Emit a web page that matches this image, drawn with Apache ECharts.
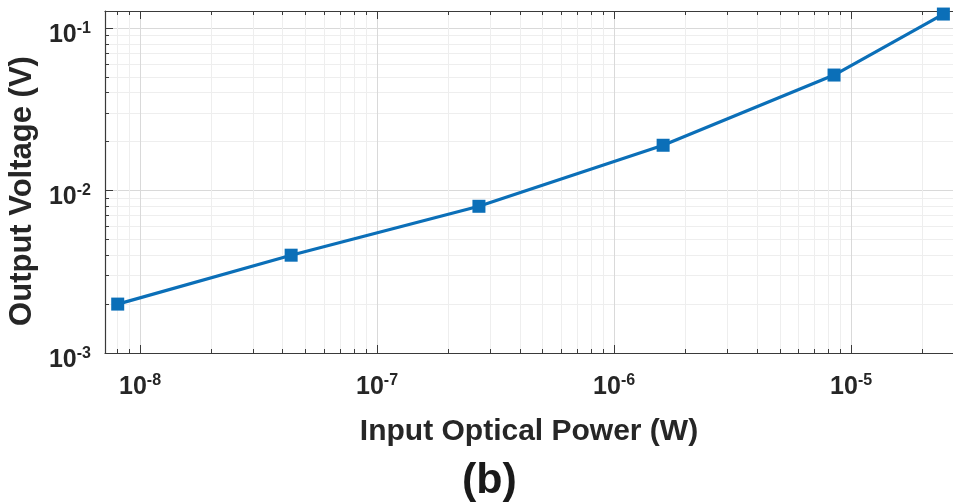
<!DOCTYPE html>
<html>
<head>
<meta charset="utf-8">
<script src="https://cdn.jsdelivr.net/npm/echarts@6/dist/echarts.min.js"></script>
<style>
  html, body { margin: 0; padding: 0; background: #ffffff; }
  #chart { width: 953px; height: 502px; }
</style>
</head>
<body>
<div id="chart"></div>
<script>
// Measured response: input optical power (W) vs output voltage (V)
const inputPower = [8.05e-9, 4.34e-8, 2.69e-7, 1.61e-6, 8.47e-6, 2.45e-5];
const outputVoltage = [0.0020, 0.0040, 0.0080, 0.019, 0.0514, 0.122];

// Axis ranges and decade / sub-decade tick values
const xRange = [7.115e-9, 2.69e-5];
const yRange = [1e-3, 0.1274];
const xMajorTicks = [1e-8, 1e-7, 1e-6, 1e-5];
const xMinorTicks = [8e-9, 9e-9,
  2e-8, 3e-8, 4e-8, 5e-8, 6e-8, 7e-8, 8e-8, 9e-8,
  2e-7, 3e-7, 4e-7, 5e-7, 6e-7, 7e-7, 8e-7, 9e-7,
  2e-6, 3e-6, 4e-6, 5e-6, 6e-6, 7e-6, 8e-6, 9e-6,
  2e-5];
const yMajorTicks = [1e-3, 1e-2, 1e-1];
const yMinorTicks = [2e-3, 3e-3, 4e-3, 5e-3, 6e-3, 7e-3, 8e-3, 9e-3,
  2e-2, 3e-2, 4e-2, 5e-2, 6e-2, 7e-2, 8e-2, 9e-2];

const xTitle = 'Input Optical Power (W)';
const yTitle = 'Output Voltage (V)';
const panelTag = '(b)';

const FONT = '"Liberation Sans", Arial, sans-serif';
const AXIS_COLOR = '#3a3a3a';
const LINE_COLOR = '#0b6fb8';

function powerLabel(v) {
  const e = Math.round(Math.log10(v));
  return '{b|10}{s|' + e + '}';
}
const labelRich = {
  b: { fontFamily: FONT, fontWeight: 'bold', fontSize: 25, color: '#262626', lineHeight: 27, verticalAlign: 'bottom' },
  s: { fontFamily: FONT, fontWeight: 'bold', fontSize: 16, color: '#262626', lineHeight: 27, verticalAlign: 'top' }
};

function logAxis(opts) {
  return Object.assign({
    type: 'log',
    logBase: 10,
    gridIndex: 0,
    axisLine: { show: true, onZero: false, lineStyle: { color: AXIS_COLOR, width: 1.2 } },
    axisTick: { show: true, inside: true, length: 7, lineStyle: { color: AXIS_COLOR, width: 1 } },
    axisLabel: { show: false },
    splitLine: { show: false },
    minorTick: { show: false },
    minorSplitLine: { show: false }
  }, opts);
}

const pairs = inputPower.map((p, i) => [p, outputVoltage[i]]);

const chart = echarts.init(document.getElementById('chart'), null, { renderer: 'canvas' });
chart.setOption({
  animation: false,
  backgroundColor: '#ffffff',
  grid: { left: 105, right: 0, top: 11, bottom: 149, containLabel: false, outerBoundsMode: 'none' },
  title: {
    text: panelTag,
    left: 457, top: 455,
    textStyle: { fontFamily: FONT, fontWeight: 'bold', fontSize: 43, color: '#1a1a1a' }
  },
  xAxis: [
    logAxis({
      position: 'bottom', min: xRange[0], max: xRange[1],
      axisTick: { show: true, inside: true, length: 8, customValues: xMajorTicks, lineStyle: { color: AXIS_COLOR, width: 1 } },
      axisLabel: { show: true, customValues: xMajorTicks, formatter: powerLabel, rich: labelRich, margin: 20 },
      splitLine: { show: true, lineStyle: { color: '#d9d9d9', width: 1 } },
      name: xTitle, nameLocation: 'middle', nameGap: 64,
      nameTextStyle: { fontFamily: FONT, fontWeight: 'bold', fontSize: 30, color: '#262626' }
    }),
    logAxis({
      position: 'bottom', min: xRange[0], max: xRange[1], axisLine: { show: false },
      axisTick: { show: true, inside: true, length: 4, customValues: xMinorTicks, lineStyle: { color: AXIS_COLOR, width: 1 } },
      splitLine: { show: true, lineStyle: { color: '#eeeeee', width: 1 } }
    }),
    logAxis({
      position: 'top', min: xRange[0], max: xRange[1],
      axisTick: { show: true, inside: true, length: 8, customValues: xMajorTicks, lineStyle: { color: AXIS_COLOR, width: 1 } }
    }),
    logAxis({
      position: 'top', min: xRange[0], max: xRange[1], axisLine: { show: false },
      axisTick: { show: true, inside: true, length: 4, customValues: xMinorTicks, lineStyle: { color: AXIS_COLOR, width: 1 } }
    })
  ],
  yAxis: [
    logAxis({
      position: 'left', min: yRange[0], max: yRange[1],
      axisTick: { show: true, inside: true, length: 8, customValues: yMajorTicks, lineStyle: { color: AXIS_COLOR, width: 1 } },
      axisLabel: { show: true, customValues: yMajorTicks, formatter: powerLabel, rich: labelRich, margin: 14, padding: [12, 0, 0, 0] },
      splitLine: { show: true, lineStyle: { color: '#d9d9d9', width: 1 } },
      name: yTitle, nameLocation: 'middle', nameGap: 63, nameRotate: 90,
      nameTextStyle: { fontFamily: FONT, fontWeight: 'bold', fontSize: 31, color: '#262626', padding: [0, 18, 0, 0] }
    }),
    logAxis({
      position: 'left', min: yRange[0], max: yRange[1], axisLine: { show: false },
      axisTick: { show: true, inside: true, length: 4, customValues: yMinorTicks, lineStyle: { color: AXIS_COLOR, width: 1 } },
      splitLine: { show: true, lineStyle: { color: '#eeeeee', width: 1 } }
    })
  ],
  series: [{
    type: 'line',
    xAxisIndex: 0,
    yAxisIndex: 0,
    data: pairs,
    symbol: 'rect',
    symbolSize: 13,
    showAllSymbol: true,
    clip: false,
    lineStyle: { color: LINE_COLOR, width: 3.2 },
    itemStyle: { color: LINE_COLOR, borderWidth: 0 },
    z: 10
  }]
});
</script>
</body>
</html>
